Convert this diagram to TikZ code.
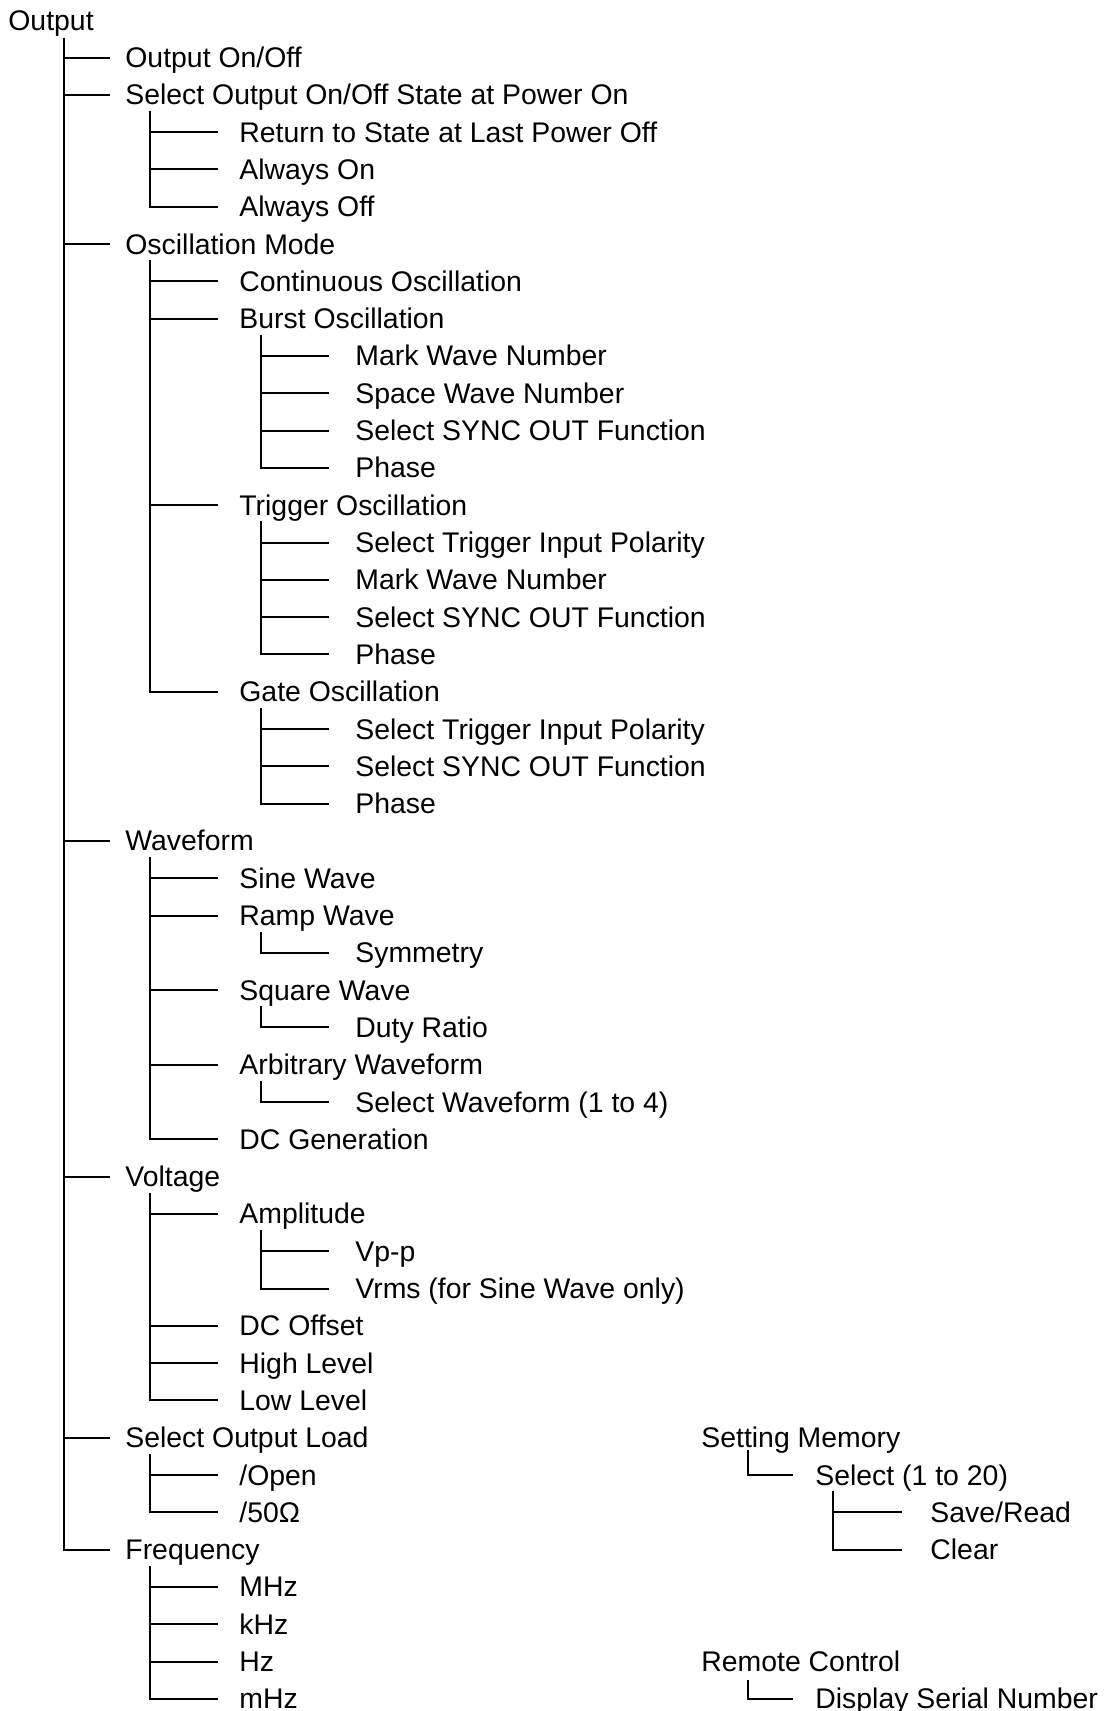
\documentclass[tikz,border=0pt]{standalone}
\usepackage{fontspec}
\setmainfont{Liberation Sans}
\begin{document}
\begin{tikzpicture}[x = 0.5pt, y = -0.5pt,
  item/.style = {anchor = west, inner sep = 0pt, text height = 10pt, text depth = 0pt, font = \fontsize{14.2}{17}\selectfont},
  link/.style = {line width = 1pt, shorten > = #1}, link/.default = 10pt]
\useasboundingbox (0, 0) rectangle (1103, 1711);
\node[item] (out) at (8, 20.3){Output};
\node[item] (onoff) at (125, 57.6){Output On/Off};
\node[item] (pwron) at (125, 94.9){Select Output On/Off State at Power On};
\node[item] (last) at (239, 132.2){Return to State at Last Power Off};
\node[item] (alon) at (239, 169.5){Always On};
\node[item] (aloff) at (239, 206.8){Always Off};
\node[item] (osc) at (125, 244.1){Oscillation Mode};
\node[item] (cont) at (239, 281.4){Continuous Oscillation};
\node[item] (burst) at (239, 318.7){Burst Oscillation};
\node[item] (bmark) at (355, 356.0){Mark Wave Number};
\node[item] (bspace) at (355, 393.3){Space Wave Number};
\node[item] (bsync) at (355, 430.6){Select SYNC OUT Function};
\node[item] (bphase) at (355, 467.9){Phase};
\node[item] (trig) at (239, 505.2){Trigger Oscillation};
\node[item] (tpol) at (355, 542.5){Select Trigger Input Polarity};
\node[item] (tmark) at (355, 579.8){Mark Wave Number};
\node[item] (tsync) at (355, 617.1){Select SYNC OUT Function};
\node[item] (tphase) at (355, 654.4){Phase};
\node[item] (gate) at (239, 691.7){Gate Oscillation};
\node[item] (gpol) at (355, 729.0){Select Trigger Input Polarity};
\node[item] (gsync) at (355, 766.3){Select SYNC OUT Function};
\node[item] (gphase) at (355, 803.6){Phase};
\node[item] (wave) at (125, 840.9){Waveform};
\node[item] (sine) at (239, 878.2){Sine Wave};
\node[item] (ramp) at (239, 915.5){Ramp Wave};
\node[item] (sym) at (355, 952.8){Symmetry};
\node[item] (square) at (239, 990.1){Square Wave};
\node[item] (duty) at (355, 1027.4){Duty Ratio};
\node[item] (arb) at (239, 1064.7){Arbitrary Waveform};
\node[item] (selwave) at (355, 1102.0){Select Waveform (1 to 4)};
\node[item] (dcgen) at (239, 1139.3){DC Generation};
\node[item] (volt) at (125, 1176.6){Voltage};
\node[item] (ampl) at (239, 1213.9){Amplitude};
\node[item] (vpp) at (355, 1251.2){Vp-p};
\node[item] (vrms) at (355, 1288.5){Vrms (for Sine Wave only)};
\node[item] (dcoff) at (239, 1325.8){DC Offset};
\node[item] (high) at (239, 1363.1){High Level};
\node[item] (low) at (239, 1400.4){Low Level};
\node[item] (load) at (125, 1437.7){Select Output Load};
\node[item] (open) at (239, 1475.0){/Open};
\node[item] (fifty) at (239, 1512.3){/50Ω};
\node[item] (freq) at (125, 1549.6){Frequency};
\node[item] (mhz) at (239, 1586.9){MHz};
\node[item] (khz) at (239, 1624.2){kHz};
\node[item] (hz) at (239, 1661.5){Hz};
\node[item] (millihz) at (239, 1698.8){mHz};
\node[item] (mem) at (701, 1437.7){Setting Memory};
\node[item] (memsel) at (815, 1475.0){Select (1 to 20)};
\node[item] (save) at (930, 1512.3){Save/Read};
\node[item] (clear) at (930, 1549.6){Clear};
\node[item] (remote) at (701, 1661.5){Remote Control};
\node[item] (serial) at (815, 1698.8){Display Serial Number};
\coordinate (out-t) at (64, 38);
\coordinate (pwron-t) at (150, 111);
\coordinate (osc-t) at (150, 260);
\coordinate (burst-t) at (261, 335);
\coordinate (trig-t) at (261, 521);
\coordinate (gate-t) at (261, 708);
\coordinate (wave-t) at (150, 857);
\coordinate (ramp-t) at (261, 932);
\coordinate (square-t) at (261, 1006);
\coordinate (arb-t) at (261, 1081);
\coordinate (volt-t) at (150, 1193);
\coordinate (ampl-t) at (261, 1230);
\coordinate (load-t) at (150, 1454);
\coordinate (freq-t) at (150, 1566);
\coordinate (mem-t) at (748, 1450);
\coordinate (memsel-t) at (833, 1491);
\coordinate (remote-t) at (748, 1680);
\draw[link = 7.5pt] (out-t) |- (onoff.west);
\draw[link = 7.5pt] (out-t) |- (pwron.west);
\draw[link = 7.5pt] (out-t) |- (osc.west);
\draw[link = 7.5pt] (out-t) |- (wave.west);
\draw[link = 7.5pt] (out-t) |- (volt.west);
\draw[link = 7.5pt] (out-t) |- (load.west);
\draw[link = 7.5pt] (out-t) |- (freq.west);
\draw[link = 10.5pt] (pwron-t) |- (last.west);
\draw[link = 10.5pt] (pwron-t) |- (alon.west);
\draw[link = 10.5pt] (pwron-t) |- (aloff.west);
\draw[link = 10.5pt] (osc-t) |- (cont.west);
\draw[link = 10.5pt] (osc-t) |- (burst.west);
\draw[link = 10.5pt] (osc-t) |- (trig.west);
\draw[link = 10.5pt] (osc-t) |- (gate.west);
\draw[link = 13pt] (burst-t) |- (bmark.west);
\draw[link = 13pt] (burst-t) |- (bspace.west);
\draw[link = 13pt] (burst-t) |- (bsync.west);
\draw[link = 13pt] (burst-t) |- (bphase.west);
\draw[link = 13pt] (trig-t) |- (tpol.west);
\draw[link = 13pt] (trig-t) |- (tmark.west);
\draw[link = 13pt] (trig-t) |- (tsync.west);
\draw[link = 13pt] (trig-t) |- (tphase.west);
\draw[link = 13pt] (gate-t) |- (gpol.west);
\draw[link = 13pt] (gate-t) |- (gsync.west);
\draw[link = 13pt] (gate-t) |- (gphase.west);
\draw[link = 10.5pt] (wave-t) |- (sine.west);
\draw[link = 10.5pt] (wave-t) |- (ramp.west);
\draw[link = 10.5pt] (wave-t) |- (square.west);
\draw[link = 10.5pt] (wave-t) |- (arb.west);
\draw[link = 10.5pt] (wave-t) |- (dcgen.west);
\draw[link = 13pt] (ramp-t) |- (sym.west);
\draw[link = 13pt] (square-t) |- (duty.west);
\draw[link = 13pt] (arb-t) |- (selwave.west);
\draw[link = 10.5pt] (volt-t) |- (ampl.west);
\draw[link = 10.5pt] (volt-t) |- (dcoff.west);
\draw[link = 10.5pt] (volt-t) |- (high.west);
\draw[link = 10.5pt] (volt-t) |- (low.west);
\draw[link = 13pt] (ampl-t) |- (vpp.west);
\draw[link = 13pt] (ampl-t) |- (vrms.west);
\draw[link = 10.5pt] (load-t) |- (open.west);
\draw[link = 10.5pt] (load-t) |- (fifty.west);
\draw[link = 10.5pt] (freq-t) |- (mhz.west);
\draw[link = 10.5pt] (freq-t) |- (khz.west);
\draw[link = 10.5pt] (freq-t) |- (hz.west);
\draw[link = 10.5pt] (freq-t) |- (millihz.west);
\draw[link = 11pt] (mem-t) |- (memsel.west);
\draw[link = 14pt] (memsel-t) |- (save.west);
\draw[link = 14pt] (memsel-t) |- (clear.west);
\draw[link = 11pt] (remote-t) |- (serial.west);
\end{tikzpicture}
\end{document}
